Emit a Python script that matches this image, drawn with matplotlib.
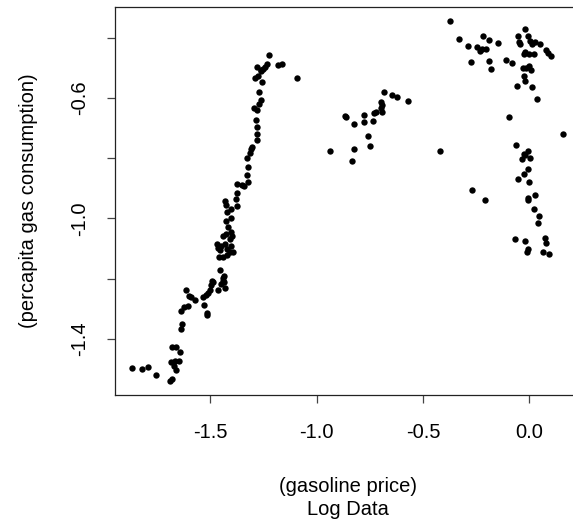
import matplotlib
matplotlib.use("Agg")
import matplotlib.pyplot as plt
import numpy as np

# log gasoline price / log per-capita consumption
PRICE_EARLY = [
    -1.866, -1.822, -1.792, -1.753, -1.690, -1.678, -1.684, -1.671, -1.660, -1.667,
    -1.648, -1.679, -1.662, -1.643, -1.635, -1.632, -1.639, -1.625, -1.606, -1.612,
    -1.600, -1.590, -1.570, -1.533, -1.527, -1.515, -1.513, -1.519, -1.509, -1.502,
    -1.497, -1.491, -1.488, -1.462, -1.450, -1.440, -1.435, -1.433, -1.428, -1.455,
    -1.439,
    -1.459, -1.440, -1.423, -1.407, -1.393, -1.404, -1.462, -1.467, -1.450, -1.455,
    -1.438, -1.430, -1.419, -1.407, -1.395, -1.426, -1.404, -1.414, -1.404, -1.426,
    -1.431, -1.426, -1.421, -1.404, -1.376, -1.378, -1.373, -1.373, -1.351, -1.342,
    -1.323, -1.325, -1.320, -1.325, -1.314, -1.308, -1.301, -1.278, -1.280, -1.278,
    -1.284, -1.292, -1.278, -1.271, -1.263, -1.270, -1.289, -1.273, -1.256, -1.259,
    -1.280, -1.261, -1.253, -1.242, -1.235, -1.222, -1.182, -1.160, -1.093,
]
CONS_EARLY = [
    -1.498, -1.500, -1.495, -1.521, -1.539, -1.534, -1.476, -1.490, -1.504, -1.473,
    -1.473, -1.426, -1.426, -1.444, -1.367, -1.352, -1.307, -1.295, -1.291, -1.237,
    -1.257, -1.260, -1.271, -1.260, -1.288, -1.315, -1.322, -1.253, -1.248, -1.239,
    -1.220, -1.207, -1.212, -1.239, -1.217, -1.208, -1.192, -1.212, -1.231, -1.172,
    -1.199,
    -1.127, -1.128, -1.122, -1.112, -1.111, -1.092, -1.097, -1.084, -1.092, -1.104,
    -1.058, -1.084, -1.103, -1.069, -1.058, -1.053, -1.045, -1.030, -1.000, -1.010,
    -0.944, -0.955, -0.978, -0.969, -0.958, -0.935, -0.915, -0.885, -0.888, -0.894,
    -0.879, -0.855, -0.829, -0.801, -0.784, -0.770, -0.763, -0.740, -0.720, -0.698,
    -0.674, -0.634, -0.640, -0.620, -0.606, -0.580, -0.535, -0.527, -0.546, -0.511,
    -0.496, -0.506, -0.505, -0.497, -0.489, -0.457, -0.491, -0.488, -0.534,
]

PRICE_MID = [
    -0.935, -0.868, -0.860, -0.826, -0.835, -0.826, -0.775, -0.779, -0.760, -0.750,
    -0.736, -0.732, -0.720, -0.692, -0.695, -0.692, -0.695, -0.681, -0.645, -0.622,
    -0.570, -0.418,
]
CONS_MID = [
    -0.776, -0.659, -0.665, -0.686, -0.809, -0.769, -0.656, -0.681, -0.726, -0.759,
    -0.676, -0.650, -0.646, -0.646, -0.634, -0.623, -0.612, -0.581, -0.590, -0.598,
    -0.610, -0.776,
]

PRICE_LATE = [
    -0.371, -0.332, -0.287, -0.246, -0.233, -0.222, -0.203, -0.218, -0.191, -0.146,
    -0.273, -0.191, -0.182, -0.110, -0.080, -0.022, -0.055, -0.050, -0.042, -0.006,
    0.005, 0.013, 0.025, 0.048, 0.080, 0.086, 0.102, -0.019, -0.003, 0.020,
    -0.023, -0.030, -0.003, 0.008, -0.014, -0.027, -0.019, -0.058, 0.013, 0.034,
    -0.097,
    0.158, -0.061, -0.008, -0.027, -0.034, 0.001, -0.019, -0.008, -0.027, -0.053,
    -0.001, -0.268, -0.210, 0.025, -0.006, -0.008, 0.020, 0.046, 0.042, -0.067,
    -0.022, -0.011, -0.008, 0.072, 0.080, 0.064, 0.093,
]
CONS_LATE = [
    -0.344, -0.404, -0.426, -0.430, -0.443, -0.437, -0.437, -0.393, -0.407, -0.417,
    -0.480, -0.477, -0.504, -0.474, -0.483, -0.371, -0.396, -0.413, -0.422, -0.396,
    -0.410, -0.421, -0.415, -0.421, -0.441, -0.450, -0.460, -0.446, -0.454, -0.455,
    -0.455, -0.501, -0.493, -0.507, -0.501, -0.527, -0.544, -0.560, -0.564, -0.604,
    -0.664,
    -0.720, -0.756, -0.776, -0.787, -0.803, -0.800, -0.789, -0.836, -0.852, -0.869,
    -0.879, -0.906, -0.939, -0.922, -0.931, -0.939, -0.969, -0.992, -1.015, -1.068,
    -1.075, -1.111, -1.103, -1.064, -1.083, -1.111, -1.119,
]

X_TICKS = [-1.5, -1.0, -0.5, 0.0]
Y_TICKS = [-1.4, -1.2, -1.0, -0.8, -0.6, -0.4]
Y_TICK_LABELS = ["-1.4", "", "-1.0", "", "-0.6", ""]

plt.rcParams.update({"font.family": ["Liberation Sans", "DejaVu Sans"], "font.size": 14.5})

price = np.concatenate([PRICE_EARLY, PRICE_MID, PRICE_LATE])
cons = np.concatenate([CONS_EARLY, CONS_MID, CONS_LATE])

fig = plt.figure(figsize=(5.73, 5.29), dpi=100)
ax = fig.add_axes([0.2007, 0.2526, 0.8126, 0.7348])
ax.scatter(price, cons, s=21, color="black", linewidths=0, zorder=3)

ax.set_xlim(-1.947, 0.241)
ax.set_ylim(-1.588, -0.297)
ax.set_xticks(X_TICKS, [f"{t:.1f}" for t in X_TICKS])
ax.set_yticks(Y_TICKS, Y_TICK_LABELS)
for side in ("left", "bottom", "top", "right"):
    ax.spines[side].set_linewidth(0.9)
    ax.spines[side].set_color("#222222")
ax.tick_params(axis="both", direction="out", length=6, width=0.9, color="#444444")
ax.tick_params(axis="x", pad=14)
ax.tick_params(axis="y", pad=12.5, labelrotation=90)
for lab in ax.get_yticklabels():
    lab.set_verticalalignment("center")

ax.set_ylabel("(percapita gas consumption)", va="center")
ax.yaxis.set_label_coords(-0.186, 0.5)
ax.set_xlabel("(gasoline price)\nLog Data", va="center", linespacing=1.25)
ax.xaxis.set_label_coords(0.5, -0.264)

fig.savefig("out.png", dpi=100)
